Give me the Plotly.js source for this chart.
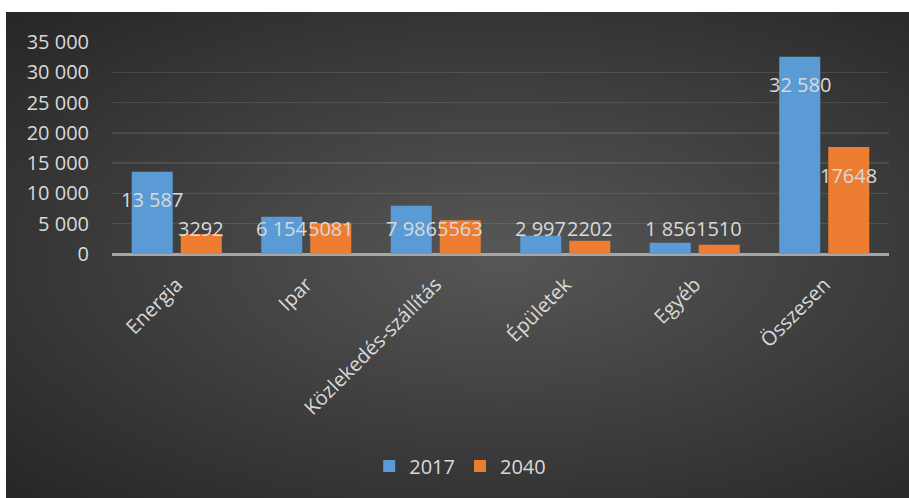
<!DOCTYPE html>
<html>
<head>
<meta charset="utf-8">
<script src="https://cdn.plot.ly/plotly-3.0.1.min.js"></script>
<style>
  html, body { margin: 0; padding: 0; background: #ffffff; width: 909px; height: 498px; overflow: hidden; }
  #bg { position: absolute; left: 6px; top: 12px; width: 903px; height: 486px;
        background: radial-gradient(ellipse farthest-corner at 55% 50%, #575757 0%, #3e3e3e 50%, #262626 100%); }
  #chart { position: absolute; left: 0; top: 0; width: 903px; height: 486px; }
</style>
</head>
<body>
<div id="bg"><div id="chart"></div></div>
<script>
const categories = ["Energia", "Ipar", "Közlekedés-szállítás", "Épületek", "Egyéb", "Összesen"];
const values2017 = [13587, 6154, 7986, 2997, 1856, 32580];
const values2040 = [3292, 5081, 5563, 2202, 1510, 17648];
const seriesNames = ["2017", "2040"];
const yTicks = [0, 5000, 10000, 15000, 20000, 25000, 30000, 35000];

const W = 903, H = 486;
const margin = {l: 106, r: 20, t: 30, b: 244, pad: 0};
const yMax = 35000;
const plotH = H - margin.t - margin.b;
const pxPerUnit = plotH / yMax;

function spaced(v) { return String(v).replace(/\B(?=(\d{3})+(?!\d))/g, " "); }

const labelColor = "#d9d9d9";
const blue = "#5b9bd5", orange = "#ed7d31";

const traces = [
  {type: "bar", name: seriesNames[0], x: categories, y: values2017,
   marker: {color: blue, line: {width: 0}}, hoverinfo: "none"},
  {type: "bar", name: seriesNames[1], x: categories, y: values2040,
   marker: {color: orange, line: {width: 0}}, hoverinfo: "none"}
];

const annotations = [];
const series = [values2017, values2040];
const fmt = [spaced, v => String(v)];
const catW = (W - margin.l - margin.r) / categories.length;
const slot = catW * (1 - 0.243) / 2;
series.forEach((vals, s) => {
  vals.forEach((v, j) => {
    const tall = v * pxPerUnit >= 54;
    annotations.push({
      x: categories[j], xref: "x", y: tall ? v : 0, yref: "y",
      xshift: (s === 0 ? -1 : 1) * slot / 2,
      yshift: tall ? -28 : 26,
      yanchor: "middle", xanchor: "center",
      text: fmt[s](v), showarrow: false,
      font: {family: "Open Sans, sans-serif", size: 20, color: labelColor}
    });
  });
});

const layout = {
  width: W, height: H,
  margin: margin,
  paper_bgcolor: "rgba(0,0,0,0)",
  plot_bgcolor: "rgba(0,0,0,0)",
  separators: ", ",
  barmode: "group",
  bargap: 0.243,
  bargroupgap: 0.163,
  font: {family: "Open Sans, sans-serif", color: labelColor},
  xaxis: {
    type: "category",
    tickangle: -45,
    tickfont: {size: 20, color: labelColor},
    showgrid: false, showline: false, zeroline: false,
    ticks: "", ticklabelstandoff: 14
  },
  yaxis: {
    range: [0, yMax],
    tickvals: yTicks,
    tickformat: ",",
    tickfont: {size: 20, color: labelColor},
    showgrid: true, gridcolor: "rgba(255,255,255,0.10)", gridwidth: 1.5,
    zeroline: true, zerolinecolor: "#a6a6a6", zerolinewidth: 3,
    showline: false, ticks: "", ticklabelstandoff: 22
  },
  legend: {
    orientation: "h", xref: "container", yref: "container",
    x: 0.503, xanchor: "center", y: 0.066, yanchor: "middle",
    font: {size: 20, color: labelColor}, bgcolor: "rgba(0,0,0,0)",
    itemwidth: 30, traceorder: "normal"
  },
  showlegend: true,
  annotations: annotations
};

Plotly.newPlot("chart", traces, layout, {displayModeBar: false, staticPlot: true});
</script>
</body>
</html>
